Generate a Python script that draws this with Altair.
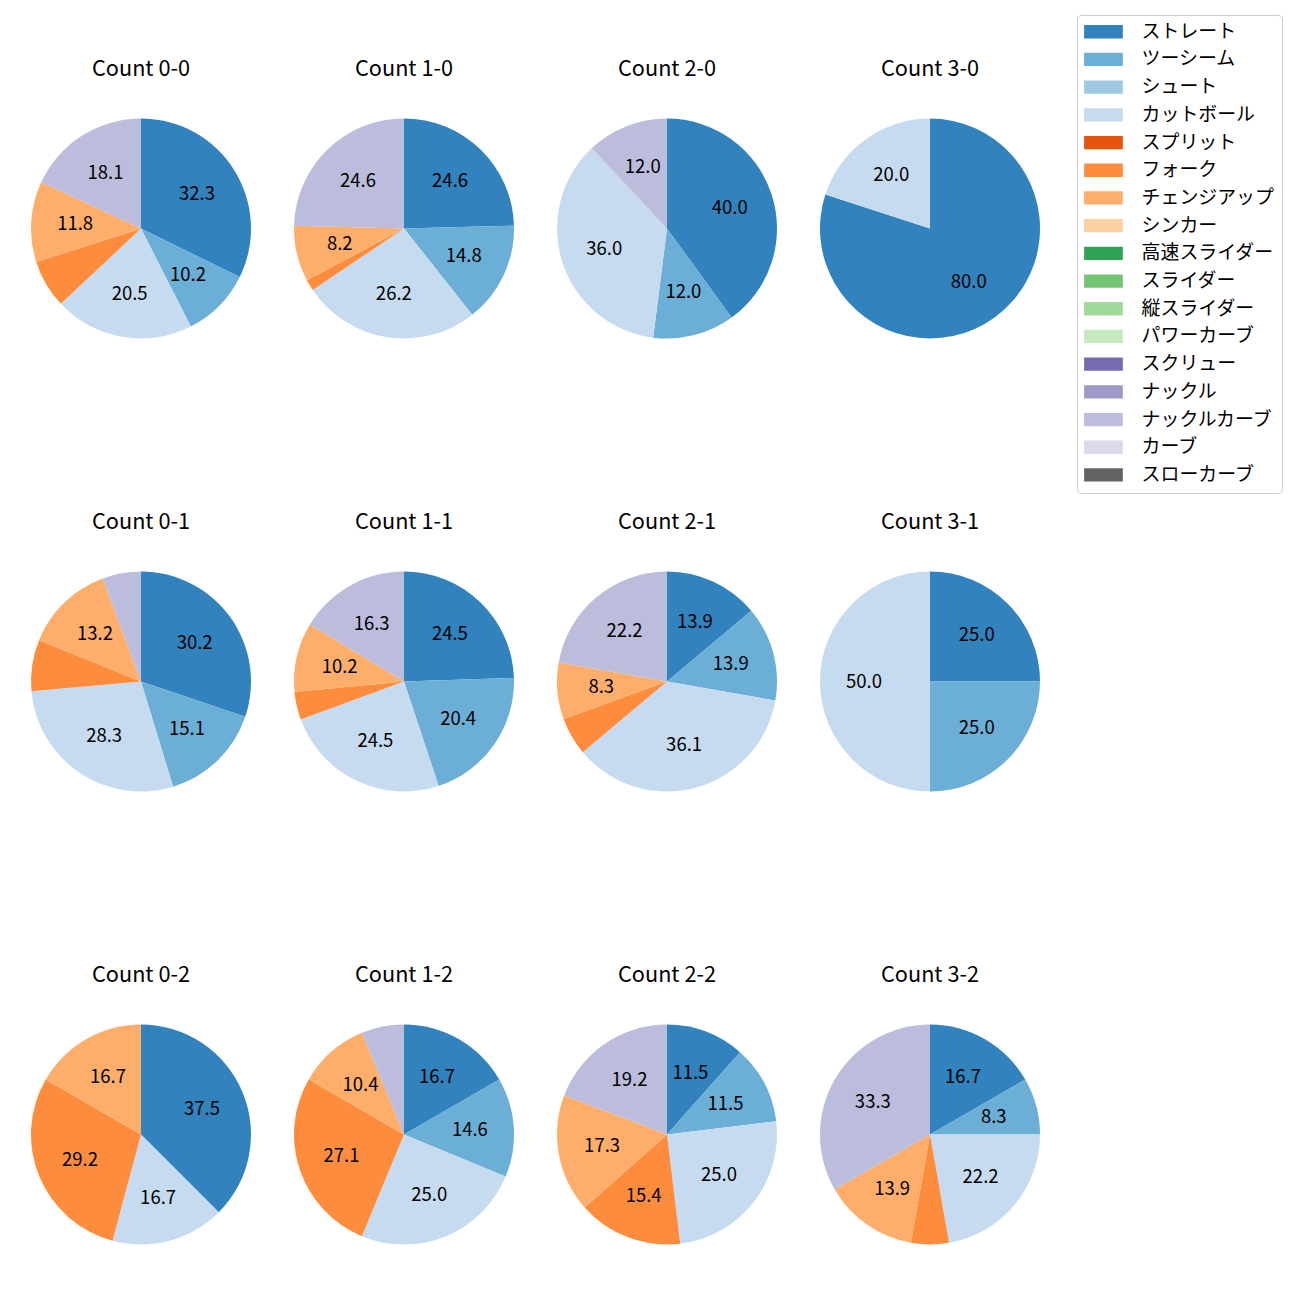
import altair as alt
import pandas as pd

FONT = "Noto Sans CJK JP"

PITCHES = ["ストレート", "ツーシーム", "シュート", "カットボール", "スプリット", "フォーク",
           "チェンジアップ", "シンカー", "高速スライダー", "スライダー", "縦スライダー",
           "パワーカーブ", "スクリュー", "ナックル", "ナックルカーブ", "カーブ", "スローカーブ"]
COLORS = ["#3182bd", "#6baed6", "#9ecae1", "#c6dbef", "#e6550d", "#fd8d3c",
          "#fdae6b", "#fdd0a2", "#31a354", "#74c476", "#a1d99b", "#c7e9c0",
          "#756bb1", "#9e9ac8", "#bcbddc", "#dadaeb", "#636363"]

SHOWN_TYPES = ["ストレート", "ツーシーム", "カットボール", "フォーク", "チェンジアップ", "ナックルカーブ"]

COUNT_LABELS = ["0-0", "1-0", "2-0", "3-0",
                "0-1", "1-1", "2-1", "3-1",
                "0-2", "1-2", "2-2", "3-2"]

n_0_0 = [41, 13, 26, 9, 15, 23]
n_1_0 = [15, 9, 16, 1, 5, 15]
n_2_0 = [10, 3, 9, 0, 0, 3]
n_3_0 = [4, 0, 1, 0, 0, 0]
n_0_1 = [16, 8, 15, 4, 7, 3]
n_1_1 = [12, 10, 12, 2, 5, 8]
n_2_1 = [5, 5, 13, 2, 3, 8]
n_3_1 = [1, 1, 2, 0, 0, 0]
n_0_2 = [9, 0, 4, 7, 4, 0]
n_1_2 = [8, 7, 12, 13, 5, 3]
n_2_2 = [6, 6, 13, 8, 9, 10]
n_3_2 = [6, 3, 8, 2, 5, 12]

COUNT_VALUES = [n_0_0, n_1_0, n_2_0, n_3_0,
                n_0_1, n_1_1, n_2_1, n_3_1,
                n_0_2, n_1_2, n_2_2, n_3_2]

RADIUS = 110
CELL = 220

color = alt.Color(
    "type:N",
    scale=alt.Scale(domain=PITCHES, range=COLORS),
    legend=alt.Legend(
        title=None, orient="none", legendX=1046, legendY=-103.5,
        symbolType="M-1.45,-1L4.37,-1L4.37,1L-1.45,1Z",
        symbolSize=177, symbolStrokeWidth=0, symbolOpacity=1,
        labelFont=FONT, labelFontSize=18.9, labelColor="black", labelOffset=38.4,
        labelLimit=400, rowPadding=7.7, padding=7.3,
        strokeColor="#cccccc", fillColor="white", cornerRadius=4,
    ),
)


def pie(label, values):
    df = pd.DataFrame({
        "type": SHOWN_TYPES,
        "n": values,
        "idx": [PITCHES.index(t) for t in SHOWN_TYPES],
    })
    base = alt.Chart(df).transform_filter("datum.n > 0").transform_joinaggregate(
        total="sum(n)"
    ).transform_calculate(
        pct="100 * datum.n / datum.total",
        label="datum.pct >= 8 ? format(datum.pct, '.1f') : ''",
    ).encode(
        theta=alt.Theta("n:Q", stack=True),
        order=alt.Order("idx:Q", sort="ascending"),
    )
    arcs = base.mark_arc(outerRadius=RADIUS, strokeWidth=0).encode(color=color)
    text = base.mark_text(radius=RADIUS * 0.6, font=FONT, fontSize=18.5, color="black",
                          align="center", baseline="middle").encode(text="label:N")
    return alt.layer(arcs, text).properties(
        width=CELL, height=CELL,
        title=alt.TitleParams(f"Count {label}", font=FONT, fontSize=21.7,
                              fontWeight="normal", color="black", anchor="middle",
                              offset=38),
    )


charts = [pie(l, v) for l, v in zip(COUNT_LABELS, COUNT_VALUES)]
rows = [alt.hconcat(*charts[i * 4:(i + 1) * 4], spacing=43) for i in range(3)]
chart = alt.vconcat(*rows, spacing=173).resolve_scale(color="shared").resolve_legend(
    color="shared"
).properties(
    padding={"left": 23, "top": 6.5, "right": 0, "bottom": 0}
).configure_view(stroke=None)

chart.save("out.html", embed_options={"renderer": "svg", "actions": False})
